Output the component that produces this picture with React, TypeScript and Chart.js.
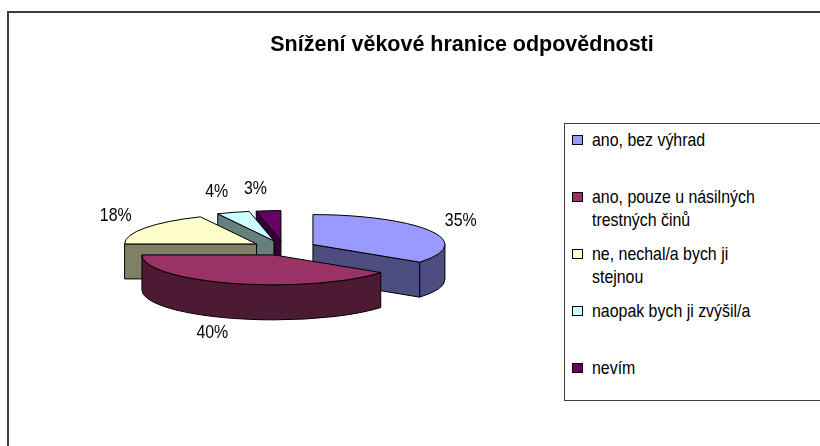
import React, { useEffect, useRef } from 'react';
import { Chart, registerables, layouts } from 'chart.js';

Chart.register(...registerables);

// ---- data ----
const chartTitle = 'Snížení věkové hranice odpovědnosti';
const categories = [
  'ano, bez výhrad',
  'ano, pouze u násilných trestných činů',
  'ne, nechal/a bych ji stejnou',
  'naopak bych ji zvýšil/a',
  'nevím',
];
const percentages = [35, 40, 18, 4, 3];
const sliceColors = ['#9999FF', '#993366', '#FFFFCC', '#CCFFFF', '#660066'];

// ---- look ----
const FONT = '"Liberation Sans", Arial, Helvetica, sans-serif';
const TILT = 0.227; // vertical squash of the pie ellipse
const DEPTH = 0.265; // wall height relative to radius
const EXPLODE = 0.246; // explosion relative to radius
const PIE_RADIUS = 132;
const LEGEND_SPACE = 356;
const LABEL_GAP_X = 16;
const LABEL_GAP_Y = 22;
const LABEL_DEPTH_SHARE = 0.85;
const TEXT_SQUEEZE = 0.86;

function darken(hex: string, f = 0.5) {
  const n = parseInt(hex.slice(1), 16);
  const r = Math.round(((n >> 16) & 255) * f);
  const g = Math.round(((n >> 8) & 255) * f);
  const b = Math.round((n & 255) * f);
  return `rgb(${r},${g},${b})`;
}

function sliceGeometry(chart: any) {
  const meta = chart.getDatasetMeta(0);
  return meta.data.map((arc: any, i: number) => {
    const R = arc.outerRadius;
    const mid = (arc.startAngle + arc.endAngle) / 2;
    const e = EXPLODE * R;
    return {
      arc,
      i,
      R,
      r: R * TILT,
      h: R * DEPTH,
      a0: arc.startAngle,
      a1: arc.endAngle,
      mid,
      cx: arc.x + Math.cos(mid) * e,
      cy: arc.y + Math.sin(mid) * e * TILT,
    };
  });
}

function drawWalls(ctx: CanvasRenderingContext2D, s: any, color: string) {
  ctx.save();
  ctx.fillStyle = darken(color);
  ctx.strokeStyle = '#000';
  ctx.lineWidth = 1;
  ctx.lineJoin = 'round';
  const pt = (a: number) => [s.cx + s.R * Math.cos(a), s.cy + s.r * Math.sin(a)];
  const quad = (a: number) => {
    const [px, py] = pt(a);
    ctx.beginPath();
    ctx.moveTo(s.cx, s.cy);
    ctx.lineTo(px, py);
    ctx.lineTo(px, py + s.h);
    ctx.lineTo(s.cx, s.cy + s.h);
    ctx.closePath();
    ctx.fill();
    ctx.stroke();
  };
  if (Math.cos(s.a0) < -1e-6) quad(s.a0);
  if (Math.cos(s.a1) > 1e-6) quad(s.a1);
  const f0 = Math.max(s.a0, 0);
  const f1 = Math.min(s.a1, Math.PI);
  if (f1 > f0) {
    const [ex, ey] = pt(f1);
    ctx.beginPath();
    ctx.ellipse(s.cx, s.cy, s.R, s.r, 0, f0, f1);
    ctx.lineTo(ex, ey + s.h);
    ctx.ellipse(s.cx, s.cy + s.h, s.R, s.r, 0, f1, f0, true);
    ctx.closePath();
    ctx.fill();
    ctx.stroke();
  }
  ctx.restore();
}

const legendSpacer = {
  id: 'legendSpacer',
  beforeInit(chart: any) {
    const box: any = {
      position: 'right',
      weight: 0,
      fullSize: false,
      options: {},
      width: 0,
      height: 0,
      left: 0,
      top: 0,
      right: 0,
      bottom: 0,
      isHorizontal() {
        return false;
      },
      update(maxWidth: number, maxHeight: number) {
        box.width = LEGEND_SPACE;
        box.height = maxHeight;
      },
      draw() {},
    };
    layouts.addBox(chart, box);
  },
};

const pie3d = {
  id: 'pie3d',
  beforeDatasetsDraw(chart: any) {
    const ctx = chart.ctx as CanvasRenderingContext2D;
    const slices = sliceGeometry(chart);
    const colors = chart.data.datasets[0].backgroundColor as string[];
    // side walls, back to front
    [...slices]
      .sort((a: any, b: any) => Math.sin(a.mid) - Math.sin(b.mid))
      .forEach((s: any) => drawWalls(ctx, s, colors[s.i]));
    // top faces drawn by the arc elements, squashed into the tilted plane
    slices.forEach((s: any) => {
      ctx.save();
      ctx.translate(s.cx, s.cy);
      ctx.scale(1, TILT);
      ctx.translate(-s.arc.x, -s.arc.y);
      s.arc.draw(ctx);
      ctx.restore();
      ctx.save();
      ctx.strokeStyle = '#000';
      ctx.lineWidth = 1;
      ctx.lineJoin = 'round';
      ctx.beginPath();
      ctx.moveTo(s.cx, s.cy);
      ctx.ellipse(s.cx, s.cy, s.R, s.r, 0, s.a0, s.a1);
      ctx.closePath();
      ctx.stroke();
      ctx.restore();
    });
    return false;
  },
  afterDraw(chart: any) {
    const ctx = chart.ctx as CanvasRenderingContext2D;
    const slices = sliceGeometry(chart);
    const values = chart.data.datasets[0].data as number[];
    const total = values.reduce((a, b) => a + b, 0);
    slices.forEach((s: any) => {
      const c = Math.cos(s.mid);
      const sn = Math.sin(s.mid);
      const x = s.cx + c * (s.R + LABEL_GAP_X);
      const y = s.cy + sn * (s.r + LABEL_GAP_Y) + Math.max(0, sn) * s.h * LABEL_DEPTH_SHARE;
      const text = Math.round((values[s.i] / total) * 100) + '%';
      ctx.save();
      ctx.translate(x, y);
      ctx.scale(TEXT_SQUEEZE, 1);
      ctx.font = `18.5px ${FONT}`;
      ctx.fillStyle = '#000';
      ctx.textAlign = c > 0.05 ? 'left' : c < -0.05 ? 'right' : 'center';
      ctx.textBaseline = 'middle';
      ctx.fillText(text, 0, 0);
      ctx.restore();
    });
  },
};

export default function App() {
  const ref = useRef<HTMLCanvasElement>(null);
  useEffect(() => {
    if (!ref.current) return;
    const chart = new Chart(ref.current, {
      type: 'pie',
      data: {
        labels: categories,
        datasets: [
          {
            data: percentages,
            backgroundColor: sliceColors,
            borderWidth: 0,
            radius: PIE_RADIUS,
          } as any,
        ],
      },
      options: {
        animation: false,
        responsive: false,
        events: [],
        layout: { padding: { left: 104, right: 0, top: 0, bottom: 16 } },
        plugins: {
          legend: { display: false },
          tooltip: { enabled: false },
          title: {
            display: true,
            text: chartTitle,
            color: '#000',
            font: { family: FONT, size: 21.5, weight: 'bold', lineHeight: 1.2 },
            padding: { top: 32, bottom: 8 },
          },
        },
      } as any,
      plugins: [legendSpacer as any, pie3d as any],
    });
    return () => chart.destroy();
  }, []);

  return (
    <div
      style={{
        position: 'fixed',
        left: 0,
        top: 0,
        width: 820,
        height: 446,
        overflow: 'hidden',
        background: '#fff',
      }}
    >
      <div
        style={{
          position: 'absolute',
          left: 7,
          top: 11,
          width: 900,
          height: 600,
          border: '2px solid #3c3c3c',
        }}
      />
      <canvas
        ref={ref}
        width={820}
        height={446}
        style={{ position: 'absolute', left: 0, top: 0, width: 820, height: 446 }}
      />
      <div
        style={{
          position: 'absolute',
          left: 564,
          top: 123,
          width: 300,
          height: 278,
          border: '1px solid #404040',
          boxSizing: 'border-box',
          fontFamily: FONT,
          background: '#fff',
        }}
      >
        {categories.map((label, i) => (
          <div
            key={label}
            style={{ position: 'absolute', left: 0, top: 3.5 + i * 57, height: 57, width: '100%' }}
          >
            <div
              style={{
                position: 'absolute',
                left: 7,
                top: 7.5,
                width: 11,
                height: 10,
                background: sliceColors[i],
                border: '1px solid #000',
                boxSizing: 'border-box',
              }}
            />
            <div
              style={{
                position: 'absolute',
                left: 27,
                top: 0,
                width: 206,
                fontSize: 18.5,
                lineHeight: '23.5px',
                color: '#000',
                transform: `scaleX(${TEXT_SQUEEZE})`,
                transformOrigin: '0 0',
              }}
            >
              {label}
            </div>
          </div>
        ))}
      </div>
    </div>
  );
}
